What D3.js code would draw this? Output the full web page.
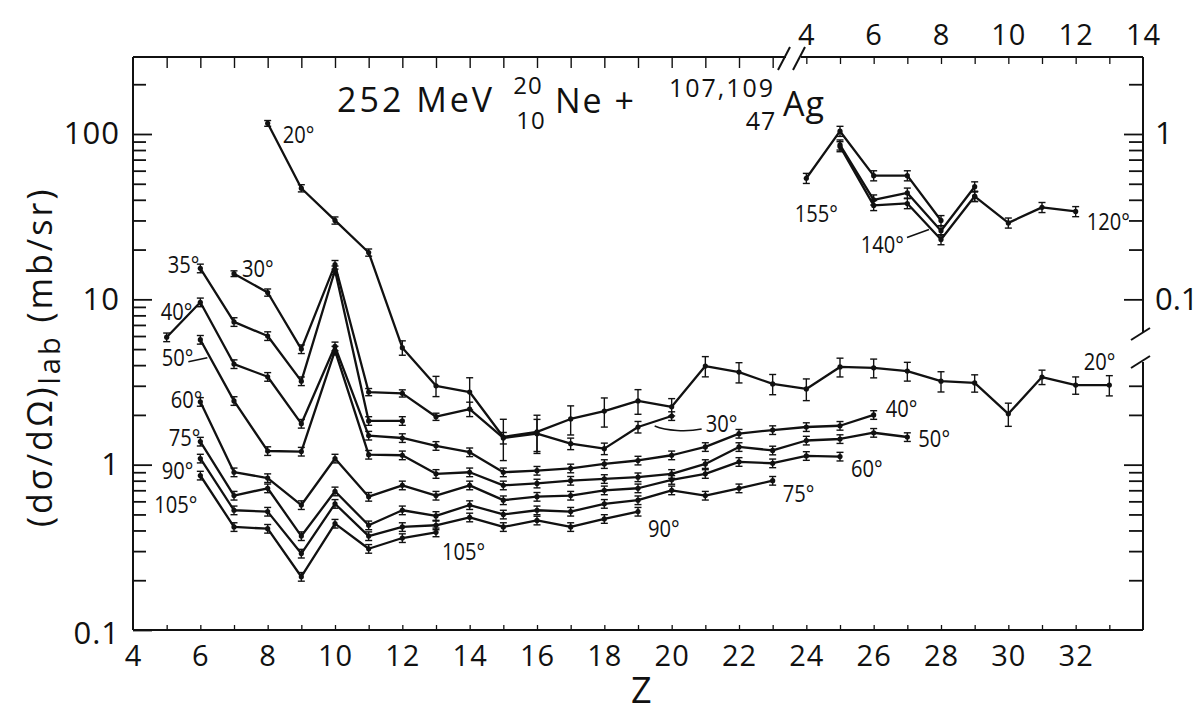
<!DOCTYPE html>
<html>
<head>
<meta charset="utf-8">
<script src="https://cdn.jsdelivr.net/npm/d3@7/dist/d3.min.js"></script>
<style>
  body { margin: 0; background: #fff; }
  svg { display: block; }
  .num { font-family: "Open Sans", "Noto Sans", "DejaVu Sans", sans-serif; fill: #111; }
  .ang { font-family: "Open Sans", "Noto Sans", "DejaVu Sans", sans-serif; fill: #111; }
</style>
</head>
<body>
<svg id="chart" width="1200" height="719"></svg>
<script>
// ---- Main panel: (dσ/dΩ)lab in mb/sr versus fragment Z, one series per lab angle ----
const z20  = [8, 9, 10, 11, 12, 13, 14, 15, 16, 17, 18, 19, 20, 21, 22, 23, 24, 25, 26, 27, 28, 29, 30, 31, 32, 33];
const s20  = [116, 47, 30, 19.2, 5.1, 3.0, 2.75, 1.47, 1.58, 1.89, 2.11, 2.43, 2.24, 3.95, 3.63, 3.08, 2.87, 3.9, 3.85, 3.68, 3.2, 3.12, 2.03, 3.39, 3.03, 3.03];
const e20  = [0.04, 0.05, 0.05, 0.05, 0.1, 0.14, 0.22, 0.28, 0.26, 0.2, 0.2, 0.17, 0.12, 0.14, 0.14, 0.14, 0.15, 0.13, 0.13, 0.13, 0.14, 0.12, 0.16, 0.1, 0.12, 0.14];

const z30  = [7, 8, 9, 10, 11, 12, 13, 14, 15, 16, 17, 18, 19, 20];
const s30  = [14.3, 11.0, 5.0, 16.2, 2.75, 2.7, 1.95, 2.17, 1.45, 1.54, 1.34, 1.25, 1.69, 1.97];
const e30  = [0.04, 0.05, 0.06, 0.06, 0.05, 0.05, 0.05, 0.1, 0.08, 0.22, 0.08, 0.08, 0.08, 0.06];

const z35  = [6, 7, 8, 9, 10, 11, 12];
const s35  = [15.4, 7.3, 6.0, 3.2, 15.0, 1.84, 1.84];

const z40  = [5, 6, 7, 8, 9, 10, 11, 12, 13, 14, 15, 16, 17, 18, 19, 20, 21, 22, 23, 24, 25, 26];
const s40  = [5.9, 9.6, 4.06, 3.4, 1.77, 5.2, 1.5, 1.45, 1.3, 1.19, 0.90, 0.92, 0.95, 1.01, 1.06, 1.14, 1.28, 1.54, 1.62, 1.69, 1.72, 2.0];

const z50  = [6, 7, 8, 9, 10, 11, 12, 13, 14, 15, 16, 17, 18, 19, 20, 21, 22, 23, 24, 25, 26, 27];
const s50  = [5.7, 2.43, 1.21, 1.2, 4.9, 1.15, 1.14, 0.88, 0.90, 0.75, 0.77, 0.80, 0.82, 0.84, 0.88, 1.01, 1.28, 1.22, 1.4, 1.43, 1.56, 1.47];

const z60  = [6, 7, 8, 9, 10, 11, 12, 13, 14, 15, 16, 17, 18, 19, 20, 21, 22, 23, 24, 25];
const s60  = [2.4, 0.90, 0.83, 0.57, 1.09, 0.64, 0.75, 0.65, 0.75, 0.61, 0.64, 0.65, 0.70, 0.72, 0.81, 0.88, 1.04, 1.02, 1.13, 1.12];

const z75  = [6, 7, 8, 9, 10, 11, 12, 13, 14, 15, 16, 17, 18, 19, 20, 21, 22, 23];
const s75  = [1.38, 0.65, 0.72, 0.37, 0.69, 0.43, 0.53, 0.49, 0.57, 0.50, 0.53, 0.52, 0.58, 0.61, 0.70, 0.65, 0.72, 0.80];

const z90  = [6, 7, 8, 9, 10, 11, 12, 13, 14, 15, 16, 17, 18, 19];
const s90  = [1.09, 0.53, 0.52, 0.29, 0.58, 0.37, 0.42, 0.43, 0.48, 0.42, 0.46, 0.42, 0.47, 0.52];

const z105 = [6, 7, 8, 9, 10, 11, 12, 13];
const s105 = [0.86, 0.42, 0.41, 0.21, 0.44, 0.31, 0.36, 0.39];

// typical relative uncertainty of the large-angle points
const relErr = 0.06;

// ---- Inset (upper right): backward angles, own Z axis on top and own scale on the right ----
const zi155  = [4, 5, 6, 7, 8];
const si155  = [0.54, 1.04, 0.56, 0.56, 0.30];
const zi140a = [5, 6, 7, 8, 9];
const si140a = [0.86, 0.40, 0.44, 0.26, 0.48];
const zi140b = [5, 6, 7, 8, 9];
const si140b = [0.84, 0.37, 0.38, 0.23, 0.42];
const zi120  = [9, 10, 11, 12];
const si120  = [0.42, 0.29, 0.36, 0.34];
const insetErr = 0.07;

// ---- Axis ticks ----
const xTickLabels   = [4, 6, 8, 10, 12, 14, 16, 18, 20, 22, 24, 26, 28, 30, 32];
const xMinor        = [5, 6, 7, 8, 9, 10, 11, 12, 13, 14, 15, 16, 17, 18, 19, 20, 21, 22, 23, 24, 25, 26, 27, 28, 29, 30, 31, 32, 33];
const xTopMinor     = [5, 6, 7, 8, 9, 10, 11, 12, 13, 14, 15, 16, 17, 18, 19, 20, 21, 22, 23];
const yMajor        = [0.1, 1, 10, 100];
const yMinor        = [0.2, 0.3, 0.4, 0.5, 0.6, 0.7, 0.8, 0.9, 2, 3, 4, 5, 6, 7, 8, 9, 20, 30, 40, 50, 60, 70, 80, 90, 200];
const insetXLabels  = [4, 6, 8, 10, 12, 14];
const insetXMinor   = [4, 5, 6, 7, 8, 9, 10, 11, 12, 13];
const insetYMajor   = [0.1, 1];
const insetYMinor   = [0.2, 0.3, 0.4, 0.5, 0.6, 0.7, 0.8, 0.9, 2];
const rightLowMajor = [1];
const rightLowMinor = [0.2, 0.3, 0.4, 0.5, 0.6, 0.7, 0.8, 0.9, 2, 3];

// ---- Layout ----
const W = 1200, H = 719;
const L = 133, R = 1143, T = 57, B = 630;
const ink = "#111";

const svg = d3.select("#chart");
svg.append("rect").attr("width", W).attr("height", H).attr("fill", "#fff");

const x  = d3.scaleLinear().domain([4, 34]).range([L, R]);
const y  = d3.scaleLog().domain([0.1, 100]).range([B, 134]);
const xi = d3.scaleLinear().domain([4, 14]).range([x(24), x(34)]);
const yi = d3.scaleLog().domain([0.001, 1]).range([B, 134]);

const pts = (zs, vs, es) => zs.map((z, i) => ({ z, v: vs[i], e: Array.isArray(es) ? es[i] : es }));

const mainSeries = [
  { id: "20",  data: pts(z20, s20, e20) },
  { id: "30",  data: pts(z30, s30, e30) },
  { id: "35",  data: pts(z35, s35, relErr) },
  { id: "40",  data: pts(z40, s40, relErr) },
  { id: "50",  data: pts(z50, s50, relErr) },
  { id: "60",  data: pts(z60, s60, relErr) },
  { id: "75",  data: pts(z75, s75, relErr) },
  { id: "90",  data: pts(z90, s90, relErr) },
  { id: "105", data: pts(z105, s105, relErr) }
];
const insetSeries = [
  { id: "155",  data: pts(zi155, si155, insetErr) },
  { id: "140a", data: pts(zi140a, si140a, insetErr) },
  { id: "140b", data: pts(zi140b, si140b, insetErr) },
  { id: "120",  data: pts(zi120, si120, insetErr) }
];

// ---- Frame with axis breaks ----
const frame = svg.append("g").attr("stroke", ink).attr("stroke-width", 2).attr("fill", "none");
frame.append("line").attr("x1", L).attr("y1", T).attr("x2", L).attr("y2", B);
frame.append("line").attr("x1", L).attr("y1", B).attr("x2", R).attr("y2", B);
frame.append("line").attr("x1", L).attr("y1", T).attr("x2", 786).attr("y2", T);
frame.append("line").attr("x1", 801).attr("y1", T).attr("x2", R).attr("y2", T);
frame.append("line").attr("x1", R).attr("y1", T).attr("x2", R).attr("y2", 332);
frame.append("line").attr("x1", R).attr("y1", 362).attr("x2", R).attr("y2", B);
// break marks
frame.append("line").attr("x1", 778).attr("y1", 70).attr("x2", 790).attr("y2", 47);
frame.append("line").attr("x1", 793).attr("y1", 70).attr("x2", 805).attr("y2", 47);
frame.append("line").attr("x1", 1131).attr("y1", 340).attr("x2", 1150).attr("y2", 328);
frame.append("line").attr("x1", 1131).attr("y1", 368).attr("x2", 1150).attr("y2", 356);

// ---- Axes (ticks point inward) ----
function styleAxis(g) {
  g.select(".domain").remove();
  g.selectAll(".tick line").attr("stroke", ink).attr("stroke-width", 1.8);
  g.selectAll(".tick text").attr("class", "num").attr("fill", ink);
}

// left axis
svg.append("g").attr("transform", `translate(${L},0)`)
  .call(d3.axisLeft(y).tickValues(yMajor).tickSizeInner(-19).tickSizeOuter(0).tickPadding(13)
    .tickFormat(d => d < 1 ? "0.1" : d3.format("d")(d)))
  .call(styleAxis)
  .call(g => g.selectAll(".tick text").attr("font-size", 31).attr("letter-spacing", 1))
  .call(g => g.selectAll(".tick").filter(d => d === 0.1).select("text").attr("dy", "0.45em"));
svg.append("g").attr("transform", `translate(${L},0)`)
  .call(d3.axisLeft(y).tickValues(yMinor).tickSizeInner(-13).tickSizeOuter(0).tickFormat(""))
  .call(styleAxis);

// bottom axis
svg.append("g").attr("transform", `translate(0,${B})`)
  .call(d3.axisBottom(x).tickValues(xTickLabels).tickSizeInner(0).tickSizeOuter(0).tickPadding(15)
    .tickFormat(d3.format("d")))
  .call(styleAxis)
  .call(g => g.selectAll(".tick text").attr("font-size", 29).attr("letter-spacing", 1));
svg.append("g").attr("transform", `translate(0,${B})`)
  .call(d3.axisBottom(x).tickValues(xMinor).tickSizeInner(-5).tickSizeOuter(0).tickFormat(""))
  .call(styleAxis)
  .call(g => g.selectAll(".tick line").attr("stroke-width", 1.3));

// top axis of the main panel
svg.append("g").attr("transform", `translate(0,${T})`)
  .call(d3.axisTop(x).tickValues(xTopMinor).tickSizeInner(-11).tickSizeOuter(0).tickFormat(""))
  .call(styleAxis)
  .call(g => g.selectAll(".tick line").attr("stroke-width", 1.4));

// inset top axis
svg.append("g").attr("transform", `translate(0,${T})`)
  .call(d3.axisTop(xi).tickValues(insetXLabels).tickSizeInner(0).tickSizeOuter(0).tickPadding(12)
    .tickFormat(d3.format("d")))
  .call(styleAxis)
  .call(g => g.selectAll(".tick text").attr("font-size", 29).attr("letter-spacing", 1));
svg.append("g").attr("transform", `translate(0,${T})`)
  .call(d3.axisTop(xi).tickValues(insetXMinor).tickSizeInner(-7).tickSizeOuter(0).tickFormat(""))
  .call(styleAxis)
  .call(g => g.selectAll(".tick line").attr("stroke-width", 1.3));

// inset right axis (above the break)
svg.append("g").attr("transform", `translate(${R},0)`)
  .call(d3.axisRight(yi).tickValues(insetYMajor).tickSizeInner(-19).tickSizeOuter(0).tickPadding(12)
    .tickFormat(d => d < 1 ? "0.1" : "1"))
  .call(styleAxis)
  .call(g => g.selectAll(".tick text").attr("font-size", 31));
svg.append("g").attr("transform", `translate(${R},0)`)
  .call(d3.axisRight(yi).tickValues(insetYMinor).tickSizeInner(-14).tickSizeOuter(0).tickFormat(""))
  .call(styleAxis);

// right axis below the break follows the main scale
svg.append("g").attr("transform", `translate(${R},0)`)
  .call(d3.axisRight(y).tickValues(rightLowMajor).tickSizeInner(-19).tickSizeOuter(0).tickFormat(""))
  .call(styleAxis);
svg.append("g").attr("transform", `translate(${R},0)`)
  .call(d3.axisRight(y).tickValues(rightLowMinor).tickSizeInner(-14).tickSizeOuter(0).tickFormat(""))
  .call(styleAxis);

// ---- Axis titles ----
svg.append("text").attr("class", "num")
  .attr("x", x(19.1)).attr("y", 703)
  .attr("text-anchor", "middle").attr("font-size", 36).text("Z");

const yt = svg.append("text").attr("class", "num")
  .attr("transform", "translate(52,527) rotate(-90)")
  .attr("font-size", 34).attr("letter-spacing", 3);
yt.append("tspan").text("(dσ/dΩ)");
yt.append("tspan").attr("dy", 8).attr("font-size", 29).text("lab");
yt.append("tspan").attr("dy", -8).text(" (mb/sr)");

// ---- Reaction label ----
const title = svg.append("g").attr("class", "num");
title.append("text").attr("x", 337).attr("y", 112).attr("font-size", 34).attr("letter-spacing", 3).text("252 MeV");
title.append("text").attr("x", 528).attr("y", 94).attr("font-size", 24).attr("letter-spacing", 1).attr("text-anchor", "middle").text("20");
title.append("text").attr("x", 531).attr("y", 129).attr("font-size", 24).attr("letter-spacing", 1).attr("text-anchor", "middle").text("10");
title.append("text").attr("x", 555).attr("y", 113).attr("font-size", 34).attr("letter-spacing", 2).text("Ne +");
title.append("text").attr("x", 722).attr("y", 97).attr("font-size", 25).attr("letter-spacing", 2).attr("text-anchor", "middle").text("107,109");
title.append("text").attr("x", 761).attr("y", 130).attr("font-size", 25).attr("letter-spacing", 1).attr("text-anchor", "middle").text("47");
title.append("text").attr("x", 783).attr("y", 116).attr("font-size", 34).attr("letter-spacing", 1).text("Ag");

// ---- Curves, error bars and points ----
function drawSeries(list, X, Y) {
  const line = d3.line().x(d => X(d.z)).y(d => Y(d.v));
  const g = svg.append("g");
  list.forEach(s => {
    const sg = g.append("g").attr("class", "series s" + s.id);
    sg.append("path").datum(s.data)
      .attr("d", line).attr("fill", "none")
      .attr("stroke", ink).attr("stroke-width", 2.3).attr("stroke-linejoin", "round");
    const eb = sg.selectAll(".eb").data(s.data).join("g").attr("class", "eb")
      .attr("stroke", ink).attr("stroke-width", 1.4);
    eb.append("line")
      .attr("x1", d => X(d.z)).attr("x2", d => X(d.z))
      .attr("y1", d => Y(d.v * (1 + d.e))).attr("y2", d => Y(d.v * (1 - d.e)));
    eb.append("line")
      .attr("x1", d => X(d.z) - 3.5).attr("x2", d => X(d.z) + 3.5)
      .attr("y1", d => Y(d.v * (1 + d.e))).attr("y2", d => Y(d.v * (1 + d.e)));
    eb.append("line")
      .attr("x1", d => X(d.z) - 3.5).attr("x2", d => X(d.z) + 3.5)
      .attr("y1", d => Y(d.v * (1 - d.e))).attr("y2", d => Y(d.v * (1 - d.e)));
    sg.selectAll("circle").data(s.data).join("circle")
      .attr("cx", d => X(d.z)).attr("cy", d => Y(d.v)).attr("r", 2.6).attr("fill", ink);
  });
}
drawSeries(mainSeries, x, y);
drawSeries(insetSeries, xi, yi);

// ---- Angle labels, placed relative to a chosen point of a series ----
const byId = {};
mainSeries.forEach(s => byId[s.id] = { s, X: x, Y: y });
insetSeries.forEach(s => byId[s.id] = { s, X: xi, Y: yi });

// at: index of the reference point (negative counts from the end)
const angleLabels = [
  { id: "20",  at: 0,  text: "20°",  dx: 15,  dy: 20, anchor: "start" },
  { id: "35",  at: 0,  text: "35°",  dx: -1,  dy: 5,  anchor: "end" },
  { id: "30",  at: 0,  text: "30°",  dx: 8,   dy: 3,  anchor: "start" },
  { id: "40",  at: 1,  text: "40°",  dx: -8,  dy: 18, anchor: "end" },
  { id: "50",  at: 0,  text: "50°",  dx: -7,  dy: 26, anchor: "end" },
  { id: "60",  at: 0,  text: "60°",  dx: 2,   dy: 6,  anchor: "end" },
  { id: "75",  at: 0,  text: "75°",  dx: 0,   dy: 4,  anchor: "end" },
  { id: "90",  at: 0,  text: "90°",  dx: -7,  dy: 21, anchor: "end" },
  { id: "105", at: 0,  text: "105°", dx: -3,  dy: 38, anchor: "end" },
  { id: "105", at: -1, text: "105°", dx: 6,   dy: 28, anchor: "start" },
  { id: "90",  at: -1, text: "90°",  dx: 10,  dy: 25, anchor: "start" },
  { id: "75",  at: -1, text: "75°",  dx: 10,  dy: 21, anchor: "start" },
  { id: "60",  at: -1, text: "60°",  dx: 11,  dy: 20, anchor: "start" },
  { id: "50",  at: -1, text: "50°",  dx: 11,  dy: 10, anchor: "start" },
  { id: "40",  at: -1, text: "40°",  dx: 12,  dy: 2,  anchor: "start" },
  { id: "20",  at: -1, text: "20°",  dx: 6,   dy: -15, anchor: "end" },
  { id: "30",  at: -1, text: "30°",  dx: 34,  dy: 16, anchor: "start" },
  { id: "155", at: 0,  text: "155°", dx: 10,  dy: 44, anchor: "middle" },
  { id: "140b", at: 3, text: "140°", dx: -37, dy: 13, anchor: "end" },
  { id: "120", at: -1, text: "120°", dx: 11,  dy: 19, anchor: "start" }
];

const anchorPt = (id, at) => {
  const { s, X, Y } = byId[id];
  const d = s.data[at < 0 ? s.data.length + at : at];
  return [X(d.z), Y(d.v)];
};

// narrow lettering for the angle labels
svg.append("g").selectAll("text").data(angleLabels).join("text")
  .attr("class", "ang")
  .attr("transform", d => {
    const [px, py] = anchorPt(d.id, d.at);
    return `translate(${px + d.dx},${py + d.dy}) scale(0.84,1)`;
  })
  .attr("text-anchor", d => d.anchor)
  .attr("font-size", 24)
  .text(d => d.text);

// leader lines from labels to their curves
const leaders = svg.append("g").attr("stroke", ink).attr("stroke-width", 1.6).attr("fill", "none");
{
  const [ax, ay] = anchorPt("30", -1);
  leaders.append("path").attr("d", `M${ax + 30},${ay + 13} C${ax + 15},${ay + 16} ${ax - 5},${ay + 15} ${ax - 17},${ay + 10}`);
}
{
  const [ax, ay] = anchorPt("50", 0);
  leaders.append("line").attr("x1", ax - 12).attr("y1", ay + 22).attr("x2", ax + 7).attr("y2", ay + 18);
}
{
  const [bx, by] = anchorPt("140b", 3);
  leaders.append("line").attr("x1", bx - 34).attr("y1", by - 2).attr("x2", bx - 12).attr("y2", by - 10);
}
</script>
</body>
</html>
